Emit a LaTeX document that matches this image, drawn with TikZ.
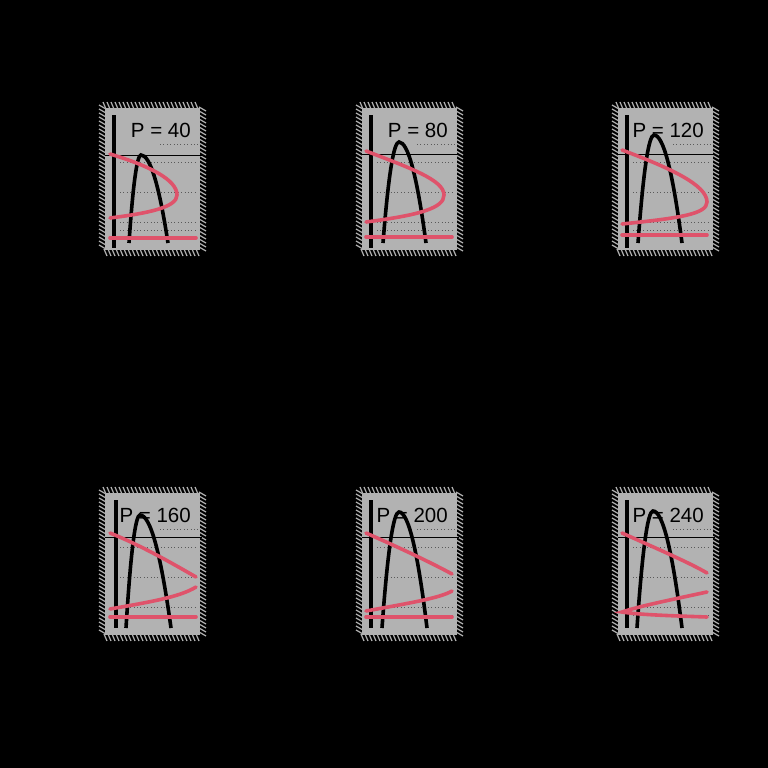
\documentclass[tikz,border=0pt]{standalone}
\usepackage{fontspec}
\setmainfont{Liberation Sans}
\definecolor{bggray}{RGB}{178,178,178}
\definecolor{rcol}{HTML}{DF536B}
\tikzset{
  panelbg/.style={fill=bggray, draw=none},
  hatchline/.style={draw=bggray, line width=1.2pt},
  blackcurve/.style={draw=black, line width=3.6pt},
  vaxis/.style={draw=black, line width=3.6pt},
  hrule/.style={draw=black, line width=1pt},
  redcurve/.style={draw=rcol, line width=3.6pt, line cap=round},
  gridline/.style={draw=black!65, line width=0.8pt, dash pattern=on 0.8pt off 2.6pt},
  plabel/.style={font=\fontsize{20.5}{24}\selectfont, anchor=base east, inner sep=0pt, text=black}
}
% #1 x left, #2 y top of the gray panel
\newcommand{\panelbox}[2]{%
  \fill[panelbg] (#1,#2) rectangle ({#1+95},{#2+142});
  \foreach \t in {0,4,...,140}{
    \draw[hatchline] ({#1-6},{#2+\t-3}) -- ({#1+1},{#2+\t+1});
    \draw[hatchline] ({#1+94},{#2+\t-1}) -- ({#1+101},{#2+\t+3});
  }
  \foreach \t in {0,4,...,94}{
    \draw[hatchline] ({#1+\t-2},{#2-6}) -- ({#1+\t+1},{#2+1});
    \draw[hatchline] ({#1+\t-1},{#2+141}) -- ({#1+\t+2},{#2+148});
  }
  \draw[gridline] ({#1+55},{#2+36}) -- ({#1+93},{#2+36});
  \draw[gridline] ({#1+15},{#2+54}) -- ({#1+93},{#2+54});
  \draw[gridline] ({#1+15},{#2+84}) -- ({#1+93},{#2+84});
  \draw[gridline] ({#1+15},{#2+114}) -- ({#1+93},{#2+114});
  \draw[gridline] ({#1+15},{#2+122}) -- ({#1+93},{#2+122});
}
% parabola: #1 xL, #2 xp, #3 yp, #4 xR, #5 ybottom
\newcommand{\hump}[5]{%
  \draw[blackcurve] (#1,#5) .. controls ({#1+(#2-#1)/3},{#5-2*(#5-#3)/3}) and ({#2-(#2-#1)/3},#3) .. (#2,#3)
     .. controls ({#2+(#4-#2)/3},#3) and ({#4-(#4-#2)/3},{#5-2*(#5-#3)/3}) .. (#4,#5);
}
\begin{document}
\begin{tikzpicture}[x=1pt,y=-1pt]
\fill[black] (0,0) rectangle (768,768);
\useasboundingbox (0,0) rectangle (768,768);

% ---------- Panel 1 ----------
\panelbox{105}{108}
\draw[hrule] (105,155) -- (202,155);
\node[plabel] (l1) at (191,137) {P = 40};
\draw[vaxis] (114,115) -- (114,248);
\hump{129}{141}{155}{168}{243}
\draw[redcurve] (110,154) .. controls (150,166) and (177,180) .. (177,195) .. controls (177,207) and (150,213) .. (110,218);
\draw[redcurve] (110,238) -- (196,238);

% ---------- Panel 2 ----------
\panelbox{362}{108}
\draw[hrule] (362,154) -- (459,154);
\node[plabel] (l2) at (448,137) {P = 80};
\draw[vaxis] (371,115) -- (371,248);
\hump{383}{399}{142}{426}{243}
\draw[redcurve] (366,151) .. controls (410,168) and (444,180) .. (444,195) .. controls (444,208) and (420,215) .. (366,222);
\draw[redcurve] (366,237) -- (452,237);

% ---------- Panel 3 ----------
\panelbox{618}{108}
\draw[hrule] (618,154) -- (715,154);
\node[plabel] (l3) at (704,137) {P = 120};
\draw[vaxis] (627,115) -- (627,248);
\hump{638}{654}{135}{682}{243}
\draw[redcurve] (622,150) .. controls (670,168) and (707,185) .. (707,202) .. controls (707,214) and (680,218) .. (622,224);
\draw[redcurve] (622,235) -- (707,235);

% ---------- Panel 4 ----------
\panelbox{105}{493}
\draw[hrule] (105,537) -- (202,537);
\node[plabel] (l4) at (191,522) {P = 160};
\draw[vaxis] (116,500) -- (116,628);
\hump{126}{140}{515}{171}{628}
\draw[redcurve] (110,533) .. controls (140,545) and (170,562) .. (196,577);
\draw[redcurve] (110,609) .. controls (150,602) and (180,597) .. (196,587);
\draw[redcurve] (110,617) -- (196,617);

% ---------- Panel 5 ----------
\panelbox{362}{493}
\draw[hrule] (362,537) -- (459,537);
\node[plabel] (l5) at (448,522) {P = 200};
\draw[vaxis] (371,500) -- (371,628);
\hump{382}{399}{512}{427}{628}
\draw[redcurve] (366,533) .. controls (400,548) and (430,562) .. (452,574);
\draw[redcurve] (366,611) .. controls (410,603) and (440,598) .. (452,591);
\draw[redcurve] (366,617) -- (452,617);

% ---------- Panel 6 ----------
\panelbox{618}{493}
\draw[hrule] (618,537) -- (715,537);
\node[plabel] (l6) at (704,522) {P = 240};
\draw[vaxis] (627,500) -- (627,628);
\hump{637}{653}{511}{682}{628}
\draw[redcurve] (622,533) .. controls (660,550) and (690,563) .. (707,573);
\draw[redcurve] (707,592) .. controls (670,600) and (640,606) .. (622,612) .. controls (640,615) and (680,616) .. (707,617);
\end{tikzpicture}
\end{document}
